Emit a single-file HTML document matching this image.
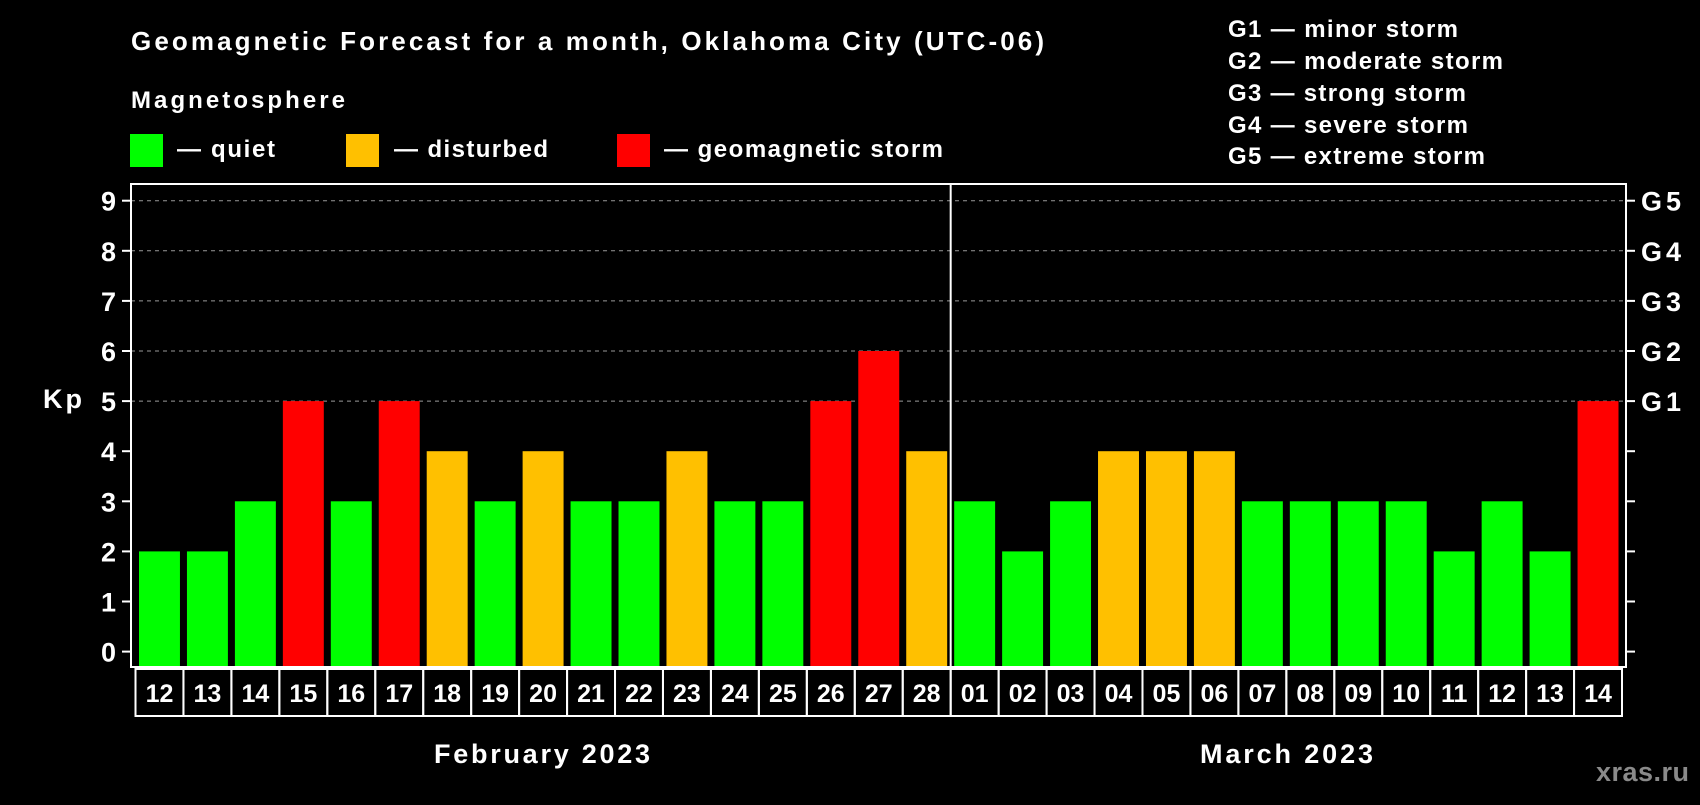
<!DOCTYPE html>
<html><head><meta charset="utf-8"><style>
body{margin:0;background:#000;width:1700px;height:800px;overflow:hidden}
svg text{font-family:"Liberation Sans",Arial,sans-serif;font-weight:bold;fill:#fff}
</style></head><body>
<svg id="chart" width="1700" height="800" xmlns="http://www.w3.org/2000/svg">
<text x="131" y="50" font-size="26" textLength="913" lengthAdjust="spacing">Geomagnetic Forecast for a month, Oklahoma City (UTC-06)</text>
<text x="131" y="108" font-size="24" textLength="214" lengthAdjust="spacing">Magnetosphere</text>
<rect x="130" y="134" width="33" height="33" fill="#00ff00"/>
<text x="177" y="157" font-size="24" textLength="98" lengthAdjust="spacing">— quiet</text>
<rect x="346" y="134" width="33" height="33" fill="#ffc000"/>
<text x="394" y="157" font-size="24" textLength="154" lengthAdjust="spacing">— disturbed</text>
<rect x="617" y="134" width="33" height="33" fill="#ff0000"/>
<text x="664" y="157" font-size="24" textLength="279" lengthAdjust="spacing">— geomagnetic storm</text>
<g font-size="24">
<text x="1228" y="37" textLength="230" lengthAdjust="spacing">G1 — minor storm</text>
<text x="1228" y="69" textLength="275" lengthAdjust="spacing">G2 — moderate storm</text>
<text x="1228" y="101" textLength="238" lengthAdjust="spacing">G3 — strong storm</text>
<text x="1228" y="133" textLength="240" lengthAdjust="spacing">G4 — severe storm</text>
<text x="1228" y="164" textLength="257" lengthAdjust="spacing">G5 — extreme storm</text>
</g>
<text x="43" y="408" font-size="27" textLength="39" lengthAdjust="spacing">Kp</text>
<g id="grid"></g><g id="bars"></g><g id="axes"></g>
<text x="434" y="763" font-size="27" textLength="216" lengthAdjust="spacing">February 2023</text>
<text x="1200" y="763" font-size="27" textLength="173" lengthAdjust="spacing">March 2023</text>
<text x="1596" y="781" font-size="27" textLength="93" lengthAdjust="spacing" style="fill:#8a8a8a">xras.ru</text>
</svg>
<script>
const days=["12","13","14","15","16","17","18","19","20","21","22","23","24","25","26","27","28","01","02","03","04","05","06","07","08","09","10","11","12","13","14"];
const kp=[2,2,3,5,3,5,4,3,4,3,3,4,3,3,5,6,4,3,2,3,4,4,4,3,3,3,3,2,3,2,5];
const yTicks=["0","1","2","3","4","5","6","7","8","9"];
const gLabels=["G1","G2","G3","G4","G5"];
const NS="http://www.w3.org/2000/svg";
const L=131,R=1626,T=184,B=667,slot0=135.5,slotW=(1622-135.5)/days.length;
const y=v=>651.6-v*50.1;
const xs=i=>slot0+i*slotW;
function mk(tag,attrs,parent){const e=document.createElementNS(NS,tag);for(const k in attrs)e.setAttribute(k,attrs[k]);document.getElementById(parent).appendChild(e);return e;}
function col(v){return v>=5?"#ff0000":v>=4?"#ffc000":"#00ff00";}
for(let v=5;v<=9;v++){
 const g=mk("line",{x1:L,x2:R,y1:y(v),y2:y(v),stroke:"#999","stroke-dasharray":"4,4","stroke-width":1},"grid");
 
 
}
kp.forEach((v,i)=>{
 const r=mk("rect",{x:xs(i)+3.5,y:y(v),width:slotW-7,height:B-y(v),fill:col(v)},"bars");
 
 
 const b=mk("rect",{x:xs(i),y:669,width:slotW,height:47,fill:"none",stroke:"#fff","stroke-width":2},"axes");
 
 
 const t=mk("text",{x:xs(i)+slotW/2,y:702,"font-size":25,"text-anchor":"middle"},"axes");
 
 
 t.textContent=days[i];
});
const fr=mk("rect",{x:L,y:T,width:R-L,height:B-T,fill:"none",stroke:"#fff","stroke-width":2},"axes");


const dv=mk("line",{x1:xs(17),x2:xs(17),y1:T,y2:B,stroke:"#fff","stroke-width":2},"axes");


yTicks.forEach((lab,i)=>{
 const v=+lab;
 const t1=mk("line",{x1:L-9,x2:L,y1:y(v),y2:y(v),stroke:"#fff","stroke-width":2},"axes");
 
 
 const t2=mk("line",{x1:R,x2:R+9,y1:y(v),y2:y(v),stroke:"#fff","stroke-width":2},"axes");
 
 
 const t=mk("text",{x:116,y:y(v)+10,"font-size":27,"text-anchor":"end"},"axes");
 
 
 t.textContent=lab;
});
gLabels.forEach((g,i)=>{
 const t=mk("text",{x:1641,y:y(5+i)+10,"font-size":27,textLength:40,lengthAdjust:"spacing"},"axes");
 
 
 t.textContent=g;
});
</script>
</body></html>
